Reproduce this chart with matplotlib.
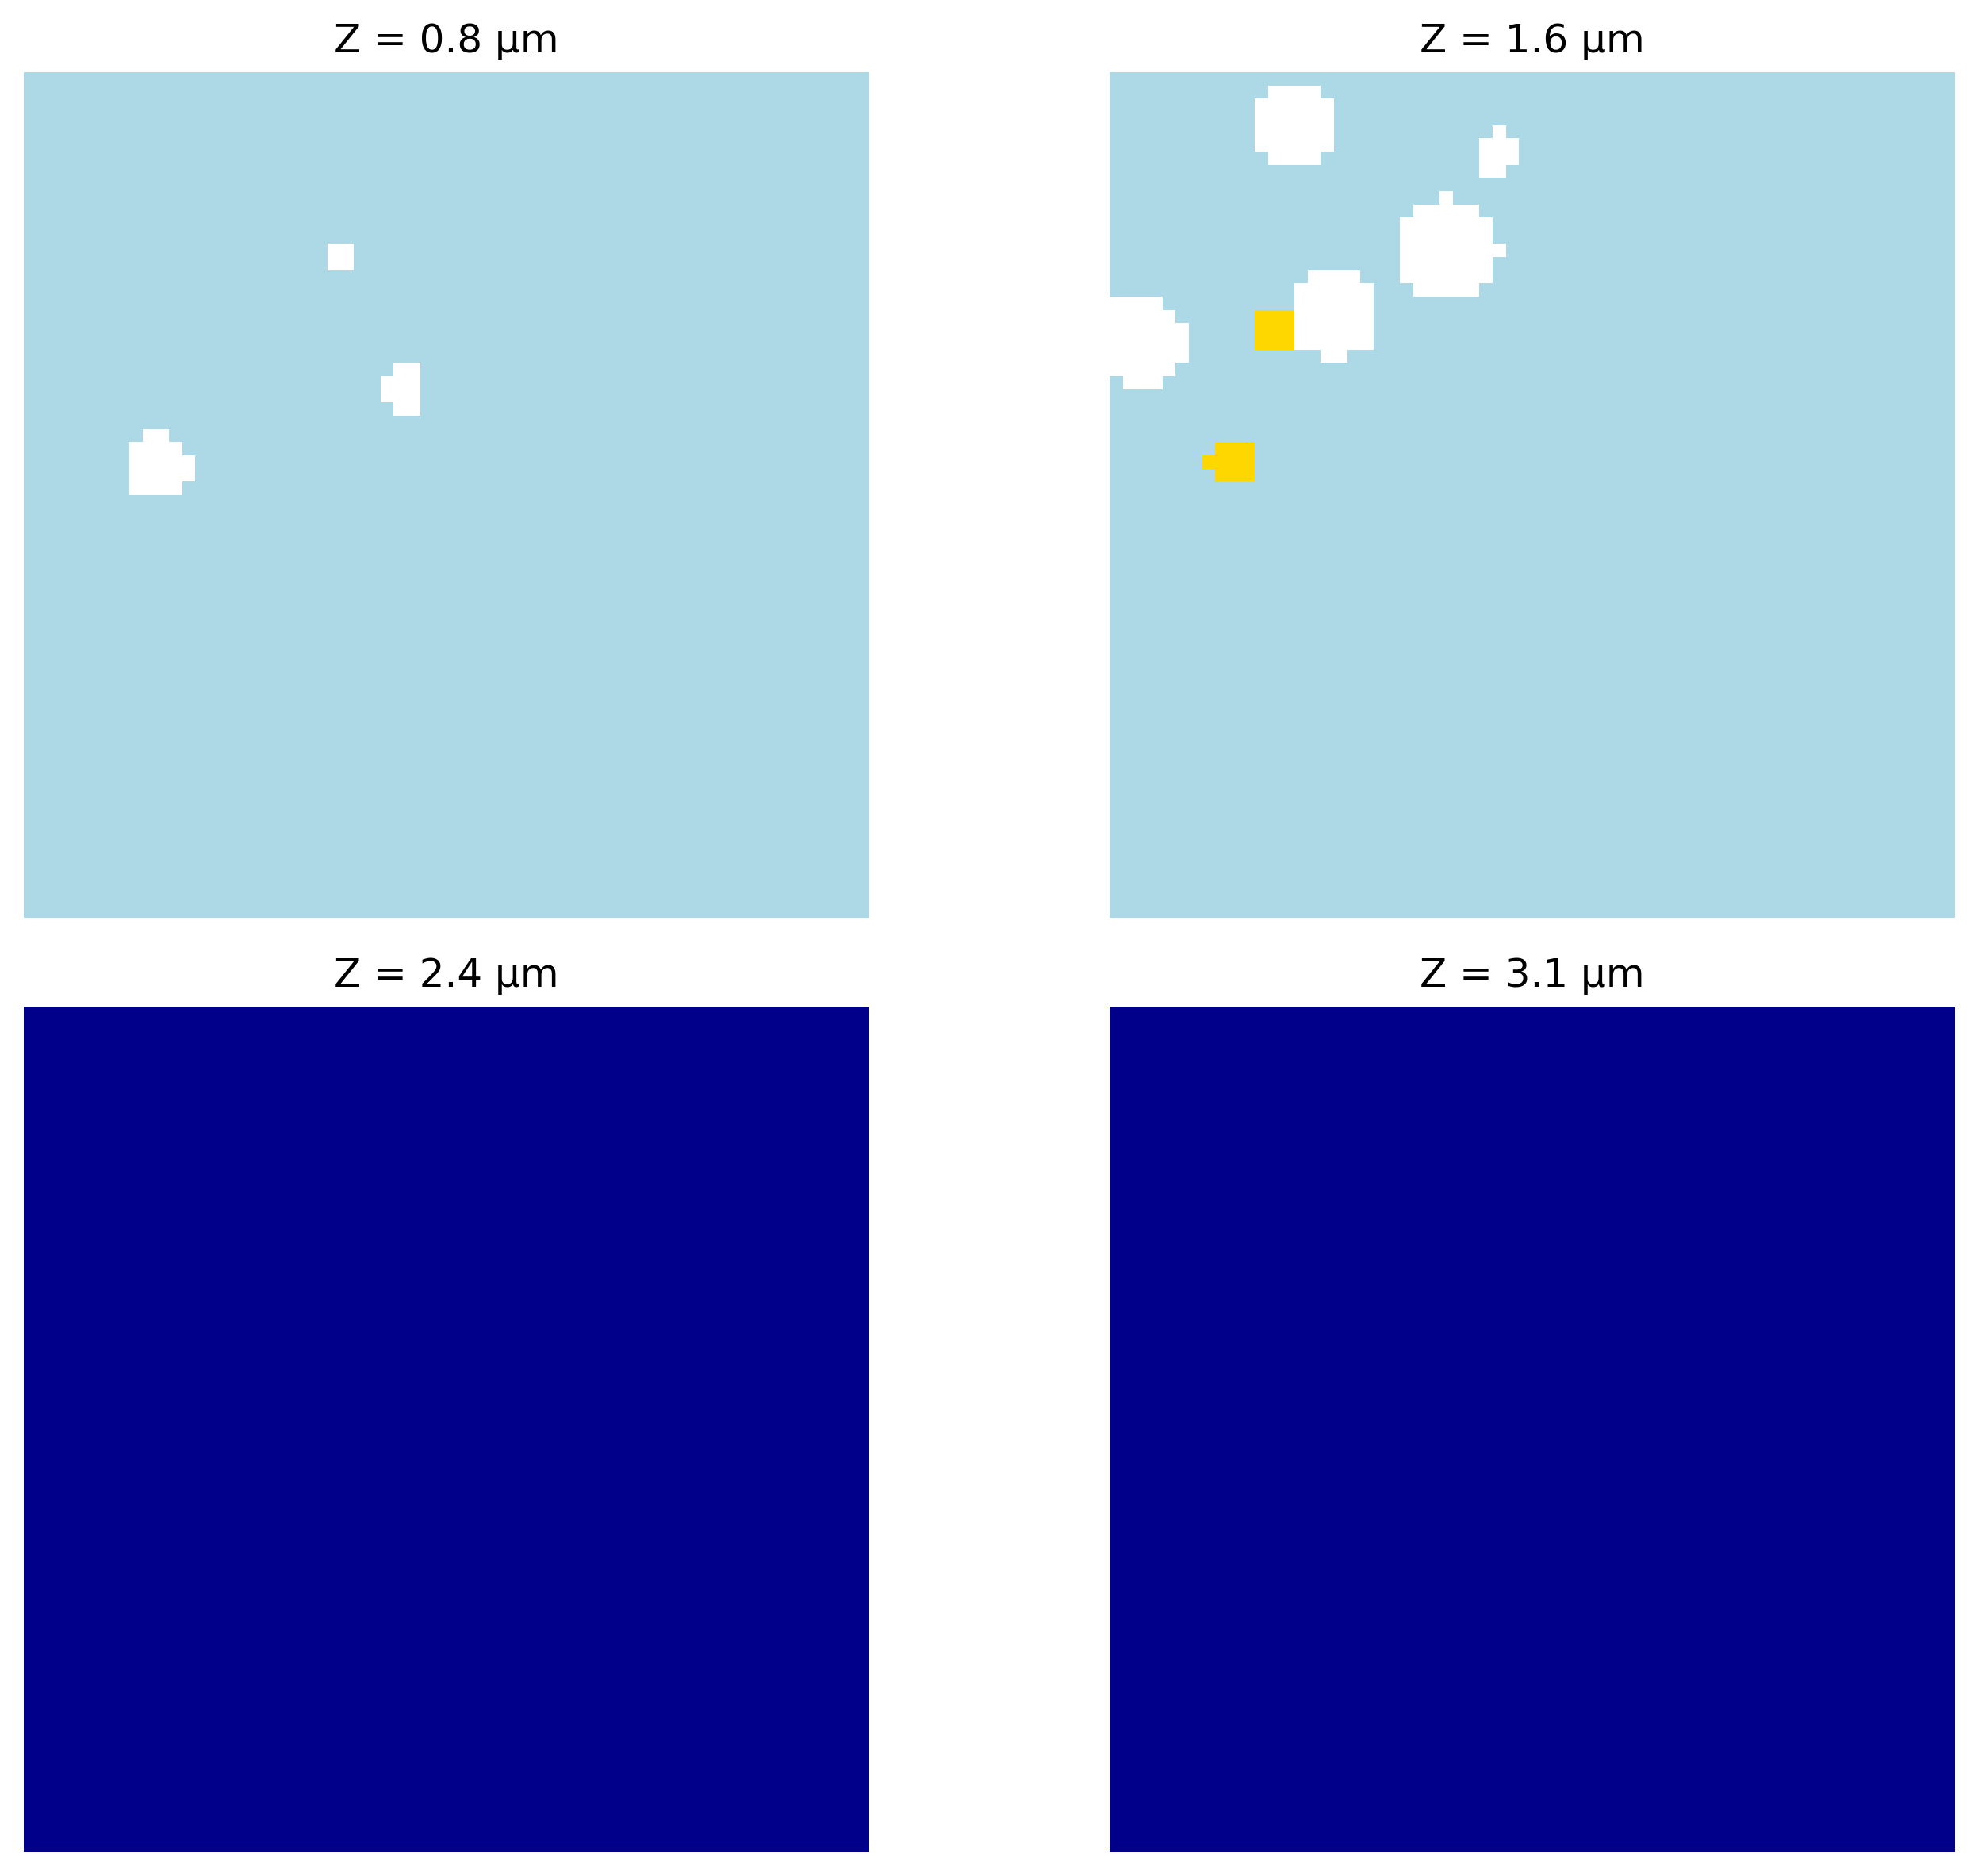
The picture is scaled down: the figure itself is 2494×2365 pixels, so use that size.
import numpy as np
import matplotlib
matplotlib.use("Agg")
import matplotlib.pyplot as plt
from matplotlib.colors import ListedColormap

# cell classes: 0 empty, 1 light phase, 2 gold inclusions, 3 dense phase
grid_size = 64
titles = ["Z = 0.8 µm", "Z = 1.6 µm", "Z = 2.4 µm", "Z = 3.1 µm"]
backgrounds = [1, 1, 3, 3]
class_colors = ["white", "lightblue", "gold", "darkblue"]

# runs of cells as (row, first col, last col)
empty_z08 = [
    (13, 23, 24), (14, 23, 24),
    (22, 28, 29), (23, 27, 29), (24, 27, 29), (25, 28, 29),
    (27, 9, 10), (28, 8, 11), (29, 8, 12), (30, 8, 12), (31, 8, 11),
]
empty_z16 = [
    (1, 12, 15), (2, 11, 16), (3, 11, 16), (4, 11, 16), (5, 11, 16), (6, 12, 15),
    (4, 29, 29), (5, 28, 30), (6, 28, 30), (7, 28, 29),
    (9, 25, 25), (10, 23, 27), (11, 22, 28), (12, 22, 28), (13, 22, 29),
    (14, 22, 28), (15, 22, 28), (16, 23, 27),
    (15, 15, 18), (16, 14, 19), (17, 14, 19), (18, 14, 19), (19, 14, 19),
    (20, 14, 19), (21, 16, 17),
    (17, 0, 3), (18, 0, 4), (19, 0, 5), (20, 0, 5), (21, 0, 5), (22, 0, 4), (23, 1, 3),
]
gold_z16 = [
    (18, 11, 13), (19, 11, 13), (20, 11, 13),
    (28, 8, 10), (29, 7, 10), (30, 8, 10),
]
empty_runs = [empty_z08, empty_z16, [], []]
gold_runs = [[], gold_z16, [], []]


def build_slice(background, empty, gold):
    img = np.full((grid_size, grid_size), background)
    for row, c0, c1 in empty:
        img[row, c0:c1 + 1] = 0
    for row, c0, c1 in gold:
        img[row, c0:c1 + 1] = 2
    return img


if __name__ == '__main__':
    W, H = 2494, 2365
    fig, axes = plt.subplots(2, 2, figsize=(W / 300, H / 300), dpi=300)
    fig.subplots_adjust(left=30 / W, right=2465 / W, top=1 - 91.4 / H, bottom=1 - 2335 / H,
                        wspace=303 / 1066, hspace=112.5 / 1066)
    cmap = ListedColormap(class_colors)
    for i, ax in enumerate(axes.flat):
        img = build_slice(backgrounds[i], empty_runs[i], gold_runs[i])
        ax.imshow(img, cmap=cmap, vmin=0, vmax=3, interpolation='nearest')
        ax.set_title(titles[i], fontsize=12)
        ax.axis('off')
    fig.savefig("out.png", dpi=300)
